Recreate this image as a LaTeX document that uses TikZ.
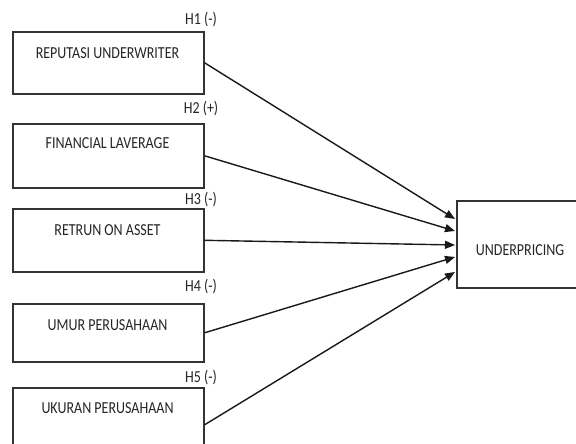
\documentclass[tikz,border=0pt]{standalone}
\usepackage{graphicx}
\usepackage{fontspec}
\setmainfont{Carlito}
\usetikzlibrary{arrows.meta}
\newcommand{\tallt}[1]{\scalebox{1}[1.2]{#1}}
\begin{document}
\begin{tikzpicture}[x=1pt,y=-1pt,
  box/.style={draw=black!80,line width=1.6pt,minimum width=191pt,inner sep=0pt,anchor=north west},
  lbl/.style={font=\fontsize{14}{16}\selectfont,inner sep=0pt,text=black!85},
  hyp/.style={font=\fontsize{14}{16}\selectfont,inner sep=0pt,text=black!85},
  arr/.style={draw=black!90,line width=1.4pt,-{Triangle[length=10pt,width=8pt]}}]
\useasboundingbox (0,0) rectangle (576,444);
\clip (0,0) rectangle (576,444);
\fill[white] (0,0) rectangle (576,444);
% left boxes
\node[box,minimum height=62pt] (r1) at (12,31) {};
\node[box,minimum height=64pt] (r2) at (12,123) {};
\node[box,minimum height=63pt] (r3) at (12,208) {};
\node[box,minimum height=58pt] (r4) at (12,303) {};
\node[box,minimum height=66pt] (r5) at (12,387) {};
\node[lbl] (t1) at (107.5,53) {\tallt{REPUTASI UNDERWRITER}};
\node[lbl] (t2) at (107.5,143) {\tallt{FINANCIAL LAVERAGE}};
\node[lbl] (t3) at (107.5,230) {\tallt{RETRUN ON ASSET}};
\node[lbl] (t4) at (107.5,325) {\tallt{UMUR PERUSAHAAN}};
\node[lbl] (t5) at (107.5,408) {\tallt{UKURAN PERUSAHAAN}};
% hypothesis labels
\node[hyp] (h1) at (201,20) {\tallt{H1 (-)}};
\node[hyp] (h2) at (201,109) {\tallt{H2 (+)}};
\node[hyp] (h3) at (201,200) {\tallt{H3 (-)}};
\node[hyp] (h4) at (201,287) {\tallt{H4 (-)}};
\node[hyp] (h5) at (201,378) {\tallt{H5 (-)}};
% dependent
\node[box,minimum width=126pt,minimum height=87pt] (u) at (456,200) {};
\node[lbl] (tu) at (520,250) {\tallt{UNDERPRICING}};
\coordinate (e1) at (455,219);
\coordinate (e2) at (455,231);
\coordinate (e3) at (455,245);
\coordinate (e4) at (455,257);
\coordinate (e5) at (455,272);
\draw[arr] (r1.east) -- (e1);
\draw[arr] (r2.east) -- (e2);
\draw[arr] (r3.east) -- (e3);
\draw[arr] (r4.east) -- (e4);
\draw[arr] ([yshift=-4pt]r5.east) -- (e5);
\end{tikzpicture}
\end{document}
